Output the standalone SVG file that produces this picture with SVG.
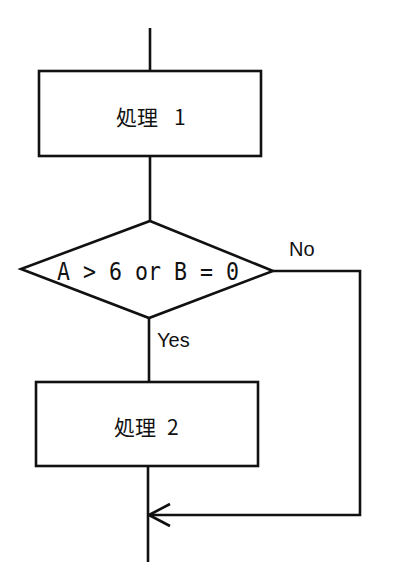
<svg xmlns="http://www.w3.org/2000/svg" width="402" height="586" viewBox="0 0 402 586">
<defs>
<style>
.shape{fill:#fff;stroke:#111;stroke-width:2.6}
.conn{fill:none;stroke:#111;stroke-width:2.6}
.cjk{font-family:"Noto Sans CJK JP","Noto Sans",sans-serif;font-size:21px;fill:#111}
.lbl{font-family:"Liberation Sans","Noto Sans",sans-serif;font-size:20px;fill:#111}
.cond{font-family:"DejaVu Sans Mono","Liberation Mono",monospace;font-size:24px;fill:#111}
</style>
<marker id="arr" markerUnits="userSpaceOnUse" viewBox="-24 -13 26 26" refX="0" refY="0" markerWidth="26" markerHeight="26" orient="auto">
<path d="M-21,-11 L0,0 L-21,11" fill="none" stroke="#111" stroke-width="2.6"/>
</marker>
</defs>
<rect width="402" height="586" fill="#fff"/>
<g id="connectors">
<line class="conn" x1="150" y1="28" x2="150" y2="71"/>
<line class="conn" x1="150" y1="156" x2="150" y2="221"/>
<line class="conn" x1="149" y1="318" x2="149" y2="382"/>
<line class="conn" x1="148" y1="466" x2="148" y2="562"/>
<polyline class="conn" points="273,271 360,271 360,515 149,515" marker-end="url(#arr)"/>
<text class="lbl" x="289" y="256">No</text>
<text class="lbl" x="157" y="347">Yes</text>
</g>
<g id="process1">
<rect class="shape" x="39" y="71" width="222" height="85"/>
<text class="cjk" x="116" y="125">処理<tspan x="174">1</tspan></text>
</g>
<g id="decision">
<polygon class="shape" points="150,221 273,271 149,318 21,269"/>
<text class="cond" x="57" y="280" textLength="182" lengthAdjust="spacingAndGlyphs">A &gt; 6 or B = 0</text>
</g>
<g id="process2">
<rect class="shape" x="36" y="382" width="222" height="84"/>
<text class="cjk" x="114" y="435">処理<tspan x="167">2</tspan></text>
</g>
</svg>
